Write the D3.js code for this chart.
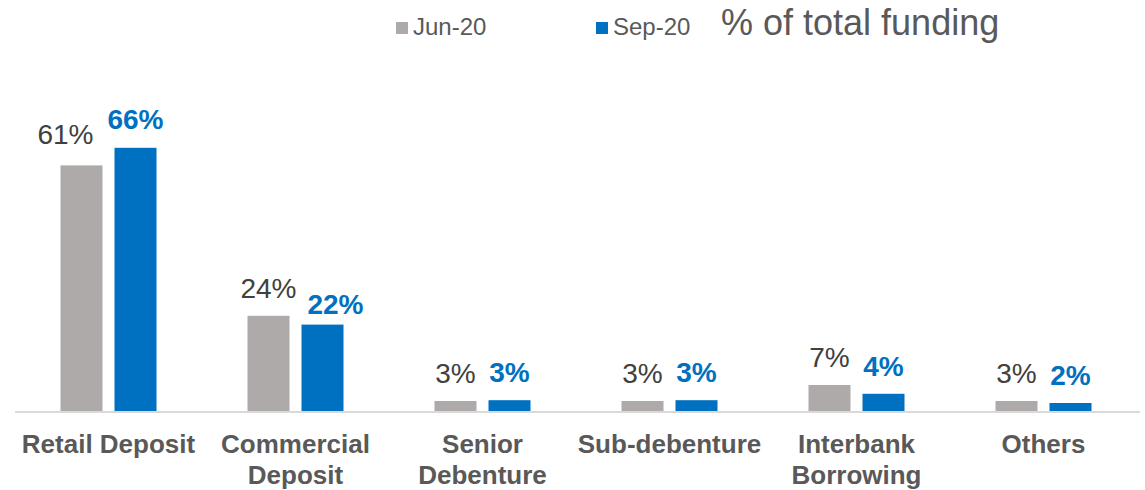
<!DOCTYPE html>
<html>
<head>
<meta charset="utf-8">
<script src="https://cdn.jsdelivr.net/npm/d3@7/dist/d3.min.js"></script>
<style>
  html, body { margin: 0; padding: 0; background: #fff; }
  svg { display: block; font-family: "Liberation Sans", Arial, Helvetica, sans-serif; }
</style>
</head>
<body>
<svg id="chart" width="1145" height="490"></svg>
<script>
const categories = ["Retail Deposit", "Commercial Deposit", "Senior Debenture", "Sub-debenture", "Interbank Borrowing", "Others"];
const seriesNames = ["Jun-20", "Sep-20"];
const jun20 = [61.4, 23.8, 2.5, 2.5, 6.5, 2.5];
const sep20 = [65.8, 21.6, 2.7, 2.7, 4.3, 2.0];
const chartTitle = "% of total funding";

const colors = { "Jun-20": "#AEAAAA", "Sep-20": "#0070C0" };
const labelColors = { "Jun-20": "#404040", "Sep-20": "#0070C0" };
const labelWeights = { "Jun-20": "normal", "Sep-20": "bold" };
// manual label nudges (as in the original layout) keyed by "category|series"
const labelNudge = { "Retail Deposit|Jun-20": [-16, -3], "Retail Deposit|Sep-20": [0, -1], "Commercial Deposit|Sep-20": [13, 7] };

const svg = d3.select("#chart");
const baseY = 411;

const x = d3.scaleBand().domain(categories).range([15, 1137]).paddingInner(0).paddingOuter(0);
const y = d3.scaleLinear().domain([0, 70]).range([baseY, baseY - 70 * 4.0]);

const data = categories.map((c, i) => ({ cat: c, values: [
  { s: "Jun-20", v: jun20[i] }, { s: "Sep-20", v: sep20[i] }
]}));

// baseline
svg.append("line")
  .attr("x1", 15).attr("x2", 1140)
  .attr("y1", baseY + 1).attr("y2", baseY + 1)
  .attr("stroke", "#D9D9D9").attr("stroke-width", 2);

const groups = svg.selectAll("g.cat").data(data).enter().append("g").attr("class", "cat");

groups.each(function(d) {
  const g = d3.select(this);
  const cx = x(d.cat) + x.bandwidth() / 2;
  const inner = d3.scaleBand().domain(seriesNames).range([cx - 48, cx + 48]).paddingInner(0.2222).paddingOuter(0);
  g.selectAll("rect").data(d.values).enter().append("rect")
    .attr("x", v => inner(v.s))
    .attr("width", inner.bandwidth())
    .attr("y", v => y(v.v))
    .attr("height", v => y(0) - y(v.v))
    .attr("fill", v => colors[v.s]);
  g.selectAll("text.val").data(d.values).enter().append("text")
    .attr("class", "val")
    .attr("x", v => inner(v.s) + inner.bandwidth() / 2 + ((labelNudge[d.cat + "|" + v.s] || [0, 0])[0]))
    .attr("y", v => y(v.v) - 18 + ((labelNudge[d.cat + "|" + v.s] || [0, 0])[1]))
    .attr("text-anchor", "middle")
    .attr("font-size", 28)
    .attr("font-weight", v => labelWeights[v.s])
    .attr("fill", v => labelColors[v.s])
    .text(v => Math.round(v.v) + "%");
});

// category labels via axis
const axis = d3.axisBottom(x).tickSize(0).tickPadding(0);
const axG = svg.append("g").attr("transform", `translate(0,${baseY})`).call(axis);
axG.select(".domain").remove();
axG.selectAll(".tick text")
  .attr("font-size", 26).attr("font-weight", "bold").attr("fill", "#595959")
  .attr("font-family", "'Liberation Sans', Arial, sans-serif")
  .attr("dy", null)
  .each(function(d) {
    const t = d3.select(this);
    const words = d.split(" ");
    t.text(null);
    let line = [];
    let tspan = t.append("tspan").attr("x", 0).attr("y", 42);
    let lineNo = 0;
    words.forEach(w => {
      line.push(w);
      tspan.text(line.join(" "));
      if (tspan.node().getComputedTextLength() > 188 && line.length > 1) {
        line.pop();
        tspan.text(line.join(" "));
        line = [w];
        lineNo++;
        tspan = t.append("tspan").attr("x", 0).attr("y", 42 + lineNo * 31).text(w);
      }
    });
  });

// legend
const legendPos = [{ sx: 396, tx: 413 }, { sx: 596, tx: 613 }];
const leg = svg.append("g");
seriesNames.forEach((s, i) => {
  leg.append("rect").attr("x", legendPos[i].sx).attr("y", 22).attr("width", 12).attr("height", 12).attr("fill", colors[s]);
  leg.append("text").attr("x", legendPos[i].tx).attr("y", 34.5)
    .attr("font-size", 24).attr("fill", "#595959").text(s);
});

svg.append("text").attr("x", 721).attr("y", 35)
  .attr("font-size", 36).attr("fill", "#595959").text(chartTitle);
</script>
</body>
</html>
